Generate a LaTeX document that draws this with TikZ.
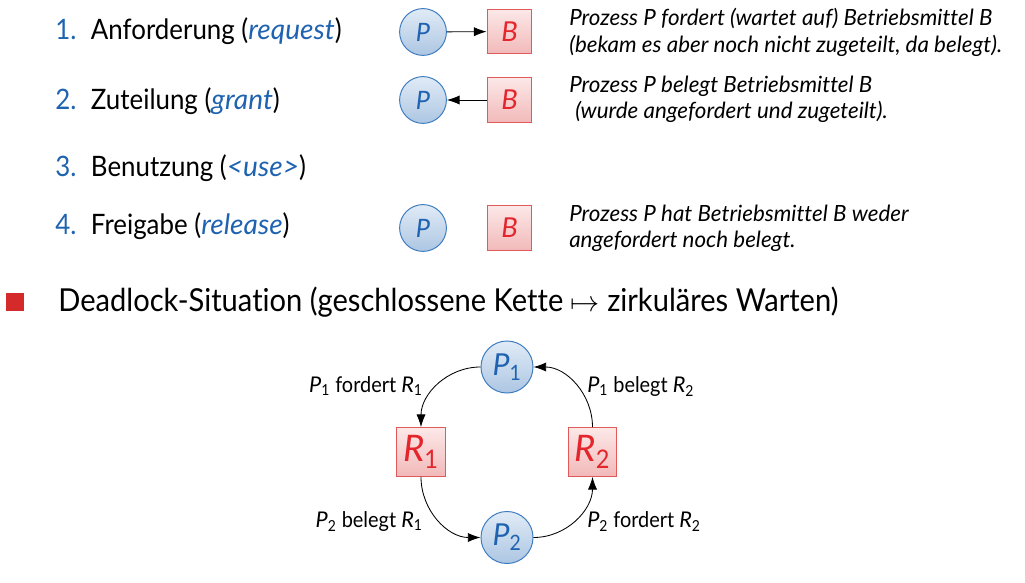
\documentclass[tikz,border=0pt]{standalone}
\usepackage{fontspec}
\setmainfont{Lato}[Ligatures={NoCommon},UprightFeatures={FakeStretch=0.92}]
\usetikzlibrary{arrows.meta}
\definecolor{procblue}{HTML}{1F63B0}
\definecolor{procline}{HTML}{3E7CC0}
\definecolor{proctop}{HTML}{E0EBF6}
\definecolor{procbot}{HTML}{ADC6E3}
\definecolor{resred}{HTML}{E4262C}
\definecolor{resline}{HTML}{E05A5A}
\definecolor{restop}{HTML}{FCE8E8}
\definecolor{resbot}{HTML}{F2B9B9}
\definecolor{bulletred}{HTML}{D42A2A}
\newcommand{\sub}[2]{\textit{#1}\textsubscript{#2}}
\newcommand{\fsz}[1]{\fontsize{#1}{#1}\selectfont}

\begin{document}
\begin{tikzpicture}[x=0.025cm,y=-0.025cm,
	every node/.style={inner sep=0pt},
	proc/.style={circle,draw=procline,line width=0.7pt,top color=proctop,bottom color=procbot,minimum size=1.17cm,text=procblue,font=\fsz{18}\itshape},
	res/.style={rectangle,draw=resline,line width=0.7pt,top color=restop,bottom color=resbot,minimum size=1.12cm,text=resred,font=\fsz{19.5}\itshape},
	bigproc/.style={proc,minimum size=1.3cm,font=\fsz{21.5}},
	bigres/.style={res,minimum size=1.22cm,font=\fsz{26}},
	item/.style={anchor=base west,font=\fsz{20}},
	num/.style={item,text=procblue},
	note/.style={anchor=base west,font=\fsz{15.9}\itshape},
	lbl/.style={font=\fsz{15.4}},
	edge/.style={-{Latex[length=9pt,width=6.5pt]},line width=0.6pt}]
	\useasboundingbox (0,0) rectangle (1025,583);
	% list of the four steps
	\node[num] (n1) at (55,40) {1.};
	\node[item] (t1) at (90.7,40) {Anforderung (\textcolor{procblue}{\textit{request}})};
	\node[num] (n2) at (55,109.3) {2.};
	\node[item] (t2) at (90.7,109.3) {Zuteilung (\textcolor{procblue}{\textit{grant}})};
	\node[num] (n3) at (55,176.7) {3.};
	\node[item] (t3) at (90.7,176.7) {Benutzung (\textcolor{procblue}{\textit{<use>}})};
	\node[num] (n4) at (55,235) {4.};
	\node[item] (t4) at (90.7,235) {Freigabe (\textcolor{procblue}{\textit{release}})};
	% small graphs
	\node[proc] (p1req) at (423,32) {P};
	\node[res] (b1req) at (509.5,31.5) {B};
	\draw[edge] (p1req) -- (b1req);
	\node[proc] (p2gr) at (423,100) {P};
	\node[res] (b2gr) at (509.5,100) {B};
	\draw[edge] (b2gr) -- (p2gr);
	\node[proc] (p4rel) at (423,228) {P};
	\node[res] (b4rel) at (509.5,228) {B};
	% notes
	\node[note] (d1a) at (569,26) {Prozess P fordert (wartet auf) Betriebsmittel B};
	\node[note] (d1b) at (569,53) {(bekam es aber noch nicht zugeteilt, da belegt).};
	\node[note] (d2a) at (569,93) {Prozess P belegt Betriebsmittel B};
	\node[note] (d2b) at (575,119) {(wurde angefordert und zugeteilt).};
	\node[note] (d4a) at (569,222) {Prozess P hat Betriebsmittel B weder};
	\node[note] (d4b) at (569,248) {angefordert noch belegt.};
	% deadlock
	\node[fill=bulletred,minimum size=0.45cm] (bullet) at (15,302) {};
	\node[anchor=base west,font=\fsz{22.5}] (dl) at (58,311.7) {Deadlock-Situation (geschlossene Kette $\mapsto$ zirkuläres Warten)};
	\node[bigproc] (P1) at (507,367) {\sub{P}{1}};
	\node[bigres] (R1) at (421,452) {\sub{R}{1}};
	\node[bigres] (R2) at (592.5,452) {\sub{R}{2}};
	\node[bigproc] (P2) at (507,537.5) {\sub{P}{2}};
	\draw[edge] (P1.west) to[out=180,in=90] (R1.north);
	\draw[edge] (R1.south) to[out=-90,in=180] (P2.west);
	\draw[edge] (P2.east) to[out=0,in=-90] (R2.south);
	\draw[edge] (R2.north) to[out=90,in=0] (P1.east);
	\node[lbl,anchor=base east] (l1) at (423,392) {\sub{P}{1} fordert \sub{R}{1}};
	\node[lbl,anchor=base west] (l2) at (587,392) {\sub{P}{1} belegt \sub{R}{2}};
	\node[lbl,anchor=base east] (l3) at (423,527) {\sub{P}{2} belegt \sub{R}{1}};
	\node[lbl,anchor=base west] (l4) at (587,527) {\sub{P}{2} fordert \sub{R}{2}};
\end{tikzpicture}
\end{document}
